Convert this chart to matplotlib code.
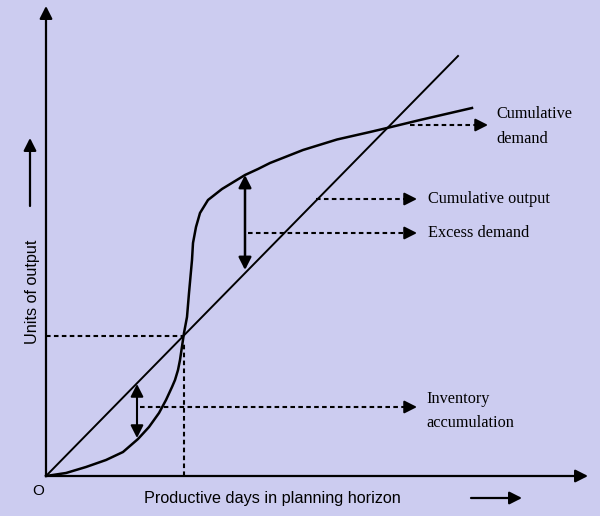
import matplotlib
matplotlib.use("Agg")
import matplotlib.pyplot as plt

# data space: 1 unit = 1 pixel, origin at the "O" corner of the axes
demand_x = [0, 20, 40, 60, 77, 92, 103, 113, 120, 126, 129, 132, 134, 138, 141,
            143, 146, 147, 150, 154, 162, 176, 199, 212, 224, 257, 291, 324, 341,
            374, 426]
demand_y = [0, 3, 9, 16, 24, 37, 49, 63, 76, 89, 96, 106, 116, 143, 159,
            183, 216, 233, 249, 263, 276, 287, 301, 307, 313, 326, 336.5, 344, 348,
            356, 368]
output_x = [0, 412]
output_y = [0, 420]

cross = (138, 140)          # demand meets output
inv_x, inv_y = 91, (92, 38)  # inventory accumulation gap
exc_x, exc_y = 199, (206, 301)

label_lines = {
    "Cumulative\ndemand": [(450, 362), (450, 337)],
    "Cumulative output": [(382, 277)],
    "Excess demand": [(382, 243)],
    "Inventory\naccumulation": [(380, 77), (380, 53)],
}
pointer_start = {"Cumulative\ndemand": (364, 351), "Cumulative output": (270, 277),
                 "Excess demand": (202, 243), "Inventory\naccumulation": (94, 69)}
pointer_end = {"Cumulative\ndemand": 442, "Cumulative output": 371,
               "Excess demand": 371, "Inventory\naccumulation": 371}

BG = "#CCCCF0"
fig = plt.figure(figsize=(6.0, 5.16), dpi=100, facecolor=BG)
ax = fig.add_axes([0, 0, 1, 1])
ax.set_facecolor(BG)
ax.set_xlim(-46, 554)
ax.set_ylim(-40, 476)
ax.axis("off")

lw_axis = 1.6
dash = (0, (2.2, 1.6))


def arrow(x0, y0, x1, y1, lw=1.5, both=False, hl=0.75, hw=0.38):
    style = "<|-|>" if both else "-|>"
    ax.annotate("", xy=(x1, y1), xytext=(x0, y0),
                arrowprops=dict(arrowstyle=f"{style},head_length={hl},head_width={hw}",
                                lw=lw, color="black", shrinkA=0, shrinkB=0,
                                mutation_scale=10))


def dashed_arrow(x0, x1, y, lw=1.5):
    ax.plot([x0, x1 - 8], [y, y], color="black", lw=lw, linestyle=dash,
            solid_capstyle="butt", dash_capstyle="butt")
    arrow(x1 - 9, y, x1, y, lw=lw)


# axes
arrow(0, 0, 0, 470, lw=lw_axis)
arrow(0, 0, 542, 0, lw=lw_axis)

# curves
ax.plot(output_x, output_y, color="black", lw=1.4)
ax.plot(demand_x, demand_y, color="black", lw=1.8, solid_joinstyle="round")

# guide lines to the crossing
ax.plot([0, cross[0]], [cross[1], cross[1]], color="black", lw=1.5, linestyle=dash)
ax.plot([cross[0], cross[0]], [0, cross[1] - 8], color="black", lw=1.5, linestyle=dash)

# gaps
arrow(inv_x, inv_y[1], inv_x, inv_y[0], lw=1.5, both=True)
arrow(exc_x, exc_y[0], exc_x, exc_y[1], lw=1.8, both=True)

# pointers and labels
for name, spots in label_lines.items():
    sx, sy = pointer_start[name]
    dashed_arrow(sx, pointer_end[name], sy)
    for line, (tx, ty) in zip(name.split("\n"), spots):
        ax.text(tx, ty, line, fontsize=11.7, family="Liberation Serif",
                va="center", ha="left")

# axis labels
ax.text(-8, -15, "O", fontsize=11, family="Liberation Sans", ha="center", va="center")
ax.text(226, -23, "Productive days in planning horizon", fontsize=11.7,
        family="Liberation Sans", ha="center", va="center")
arrow(425, -22, 476, -22, lw=1.6)
ax.text(-14, 184, "Units of output", fontsize=11.7, family="Liberation Sans",
        rotation=90, ha="center", va="center")
arrow(-16, 270, -16, 338, lw=1.6)

fig.savefig("out.png", dpi=100, facecolor=BG)
